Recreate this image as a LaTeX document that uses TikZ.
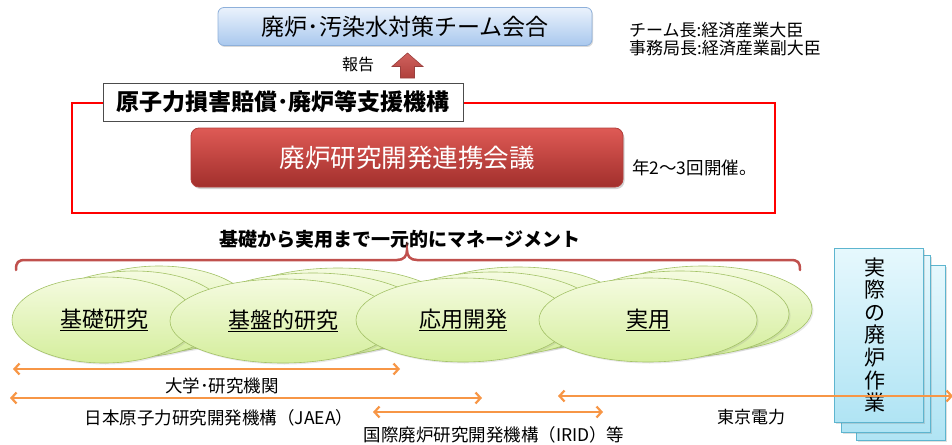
\documentclass[tikz,border=0pt]{standalone}
\usepackage{fontspec}
\newfontfamily\jp{Noto Sans CJK JP}
\usetikzlibrary{shapes.geometric,shadows,arrows.meta}
\definecolor{topA}{HTML}{EAF2FC}
\definecolor{topB}{HTML}{A9C8EE}
\definecolor{topBd}{HTML}{8EB0DA}
\definecolor{redA}{HTML}{DE5A55}
\definecolor{redB}{HTML}{A22F2C}
\definecolor{redBd}{HTML}{B23E3B}
\definecolor{brc}{HTML}{C0504D}
\definecolor{ellA}{HTML}{F5FBE0}
\definecolor{ellB}{HTML}{D4EE9C}
\definecolor{ellBd}{HTML}{A3C266}
\definecolor{org}{HTML}{F79646}
\definecolor{bluA}{HTML}{E6F8FD}
\definecolor{bluB}{HTML}{B0E4F4}
\definecolor{bluBd}{HTML}{5DB5CF}
\definecolor{arrA}{HTML}{D0625E}
\definecolor{arrB}{HTML}{B0403C}
\begin{document}
\begin{tikzpicture}[x=1pt,y=-1pt,font=\jp,
  fs/.style={font=\jp\fontsize{#1}{#1}\selectfont},
  topbox/.style={draw=topBd,line width=0.8pt,rounded corners=6pt,top color=topA,bottom color=topB,
    minimum width=374pt,minimum height=38pt,inner sep=0pt,
    drop shadow={opacity=0.3,shadow xshift=1pt,shadow yshift=-1.5pt}},
  redbox/.style={draw=redBd,line width=0.8pt,rounded corners=8pt,top color=redA,bottom color=redB,
    minimum width=432pt,minimum height=59pt,inner sep=0pt,text=white,
    drop shadow={opacity=0.35,shadow xshift=1.5pt,shadow yshift=-2pt}},
  lblbox/.style={draw=black!70,line width=0.8pt,fill=white,minimum width=360pt,minimum height=38pt,inner sep=0pt},
  ell/.style={ellipse,draw=ellBd,line width=0.6pt,top color=ellA,bottom color=ellB,inner sep=0pt,
    drop shadow={opacity=0.18,shadow xshift=1.5pt,shadow yshift=-1.5pt}},
  bbox/.style={draw=bluBd,line width=0.8pt,top color=bluA,bottom color=bluB,
    minimum width=89pt,inner sep=0pt,
    drop shadow={opacity=0.25,shadow xshift=1.5pt,shadow yshift=-1.5pt}},
  oarrow/.style={draw=org,line width=2.2pt,{Straight Barb[length=5pt,width=11pt]}-{Straight Barb[length=5pt,width=11pt]}},
  txt/.style={inner sep=0pt,fs=17.5}
]
\useasboundingbox (0,0) rectangle (952,444);

% top
\node[topbox,fs=23] (team) at (405,26.5) {廃炉･汚染水対策チーム会合};
\node[inner sep=0pt,fs=17,anchor=west] (chief) at (629,30) {チーム長:経済産業大臣};
\node[inner sep=0pt,fs=17,anchor=west] (sec) at (629,48.5) {事務局長:経済産業副大臣};
\node[inner sep=0pt,fs=16] (report) at (358,64) {報告};
\draw[draw=brc!80!black,line width=0.6pt,top color=arrA,bottom color=arrB]
  (407.5,53) -- (423,66.5) -- (414.5,66.5) -- (414.5,78) -- (400.5,78) -- (400.5,66.5) -- (392,66.5) -- cycle;

% red frame
\node[draw=red,line width=2pt,minimum width=703pt,minimum height=110pt,inner sep=0pt] (frame) at (423.5,158) {};
\node[lblbox,font=\jp\bfseries\fontsize{23}{23}\selectfont] (org) at (283,102) {原子力損害賠償･廃炉等支援機構};
\node[redbox,fs=25.5] (council) at (407,157.5) {\textcolor{white}{廃炉研究開発連携会議}};
\node[inner sep=0pt,fs=17.5,anchor=west] (freq) at (632,168) {年2～3回開催。};

% brace
\node[inner sep=0pt,font=\jp\bfseries\fontsize{19}{19}\selectfont] (mgmt) at (400,239) {基礎から実用まで一元的にマネージメント};
\draw[brc,line width=2.5pt,line cap=round]
  (16,270) .. controls (16,262) and (18,260) .. (26,260) -- (397,260)
  .. controls (404,260) and (407,256) .. (407,250)
  .. controls (407,256) and (410,260) .. (417,260) -- (790,260)
  .. controls (798,260) and (800,262) .. (800,270);

% ellipse groups
\node[ell,minimum width=184pt,minimum height=86pt] (a3) at (159,309) {};
\node[ell,minimum width=184pt,minimum height=86pt] (a2) at (134,314) {};
\node[ell,minimum width=184pt,minimum height=86pt,fs=22] (a1) at (104,320) {\underline{基礎研究}};

\node[ell,minimum width=226pt,minimum height=84pt] (b3) at (338,310) {};
\node[ell,minimum width=226pt,minimum height=84pt] (b2) at (313,315) {};
\node[ell,minimum width=226pt,minimum height=84pt,fs=22] (b1) at (283,321) {\underline{基盤的研究}};

\node[ell,minimum width=214pt,minimum height=84pt] (c3) at (518,309) {};
\node[ell,minimum width=214pt,minimum height=84pt] (c2) at (493,314) {};
\node[ell,minimum width=214pt,minimum height=84pt,fs=22] (c1) at (463,320) {\underline{応用開発}};

\node[ell,minimum width=218pt,minimum height=86pt] (d3) at (703,309) {};
\node[ell,minimum width=218pt,minimum height=86pt] (d2) at (680,314) {};
\node[ell,minimum width=218pt,minimum height=84pt,fs=22] (d1) at (648,320) {\raisebox{4pt}{\underline{実用}}};

% right stacked boxes
\node[bbox,minimum height=175pt] (w3) at (900.5,352.5) {};
\node[bbox,minimum height=177pt] (w2) at (885.5,343.5) {};
\node[bbox,minimum height=174pt] (w1) at (878.5,335) {};
\node[inner sep=0pt,align=center,font=\jp\fontsize{21}{22.6}\selectfont] (work) at (875,335) {実\\際\\の\\廃\\炉\\作\\業};

% orange arrows
\coordinate (u1) at (13,369);
\coordinate (u2) at (400,369);
\coordinate (j1) at (10,398);
\coordinate (j2) at (482,398);
\coordinate (i1) at (373,412);
\coordinate (i2) at (603,412);
\coordinate (t1) at (558,396);
\coordinate (t2) at (953,396);
\draw[oarrow] (u1) -- (u2);
\draw[oarrow] (j1) -- (j2);
\draw[oarrow] (i1) -- (i2);
\draw[oarrow] (t1) -- (t2);
\node[txt] (univ) at (222,386) {大学･研究機関};
\node[txt] (jaea) at (219,418) {日本原子力研究開発機構（JAEA）};
\node[txt] (irid) at (494,435) {国際廃炉研究開発機構（IRID）等};
\node[txt,fs=17] (tepco) at (751,417) {東京電力};
\end{tikzpicture}
\end{document}
